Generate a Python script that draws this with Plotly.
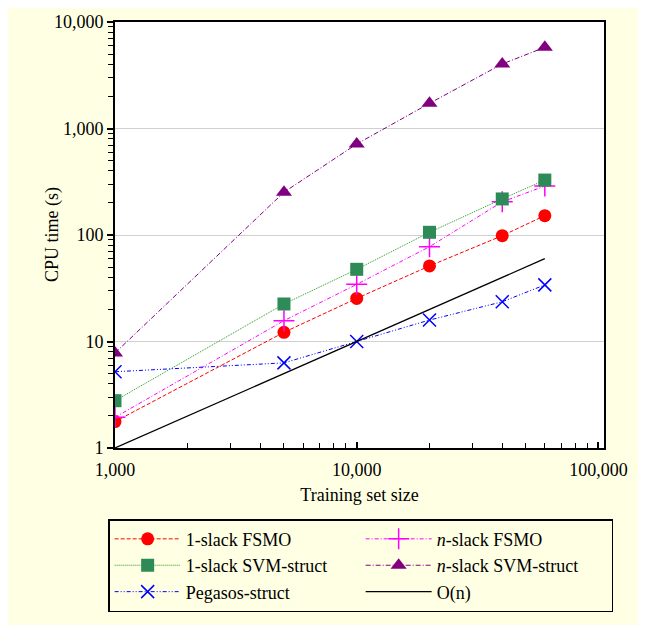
import plotly.graph_objects as go

sizes = [1000, 5000, 10000, 20000, 40000, 60000]
fsmo_1slack = [1.77, 12.2, 25.4, 51.2, 98.5, 152]
fsmo_nslack = [1.94, 15.7, 34.4, 77.6, 205, 288]
svm_1slack = [2.78, 22.5, 47.6, 106, 218, 328]
svm_nslack = [7.8, 252, 715, 1722, 4034, 5786]
pegasos = [5.2, 6.3, 10.0, 15.9, 23.6, 34]
on_x = [1000, 60000]
on_y = [1, 60]

y_tickvals = [1, 10, 100, 1000, 10000]
y_ticktext = ["1", "10", "100", "1,000", "10,000"]
x_tickvals = [1000, 10000, 100000]
x_ticktext = ["1,000", "10,000", "100,000"]

FONT = "Liberation Serif, Times New Roman, serif"
BG = "#FFFFE3"
FS = 18

fig = go.Figure()

def add(name, x, y, color, dash, symbol, msize, mline=None, mcolor=None, lcolor=None):
    marker = dict(symbol=symbol, size=msize, color=mcolor or color)
    if mline:
        marker["line"] = dict(color=color, width=mline)
    fig.add_trace(go.Scatter(
        x=x, y=y, name=name, mode="lines+markers" if symbol else "lines",
        line=dict(color=lcolor or color, width=1, dash=dash),
        marker=marker,
    ))

add("1-slack FSMO", sizes, fsmo_1slack, "#FF0000", "4px,2px", "circle", 13)
add("<i>n</i>-slack FSMO", sizes, fsmo_nslack, "#FF00FF", "4px,2px,1px,2px", "cross-thin", 15, mline=1.5)
add("1-slack SVM-struct", sizes, svm_1slack, "#2E8B57", "1px,1px", "square", 13, lcolor="#1E9A1E")
add("<i>n</i>-slack SVM-struct", sizes, svm_nslack, "#800080", "5px,2px,1px,2px", "triangle-up", 14)
add("Pegasos-struct", sizes, pegasos, "#0000FF", "4px,2px,1px,2px,1px,2px", "x-thin", 13, mline=1.5)
fig.add_trace(go.Scatter(x=on_x, y=on_y, name="O(n)", mode="lines",
                         line=dict(color="black", width=1.2)))

axis_common = dict(
    type="log", showline=True, linecolor="black", linewidth=2, mirror=True,
    tickfont=dict(family=FONT, size=FS, color="black"),
    zeroline=False,
)

fig.update_xaxes(**axis_common, range=[3, 5.023], tickvals=x_tickvals, ticktext=x_ticktext,
                 showgrid=False, ticklabelstandoff=4,
                 ticks="inside", ticklen=6, tickwidth=1.5, tickcolor="black",
                 minor=dict(ticks="inside", ticklen=5, tickwidth=1.2, tickcolor="black", dtick="D1", showgrid=False),
                 title=dict(text="Training set size", font=dict(family=FONT, size=FS, color="black"), standoff=10))
fig.update_yaxes(**axis_common, range=[0, 4], tickvals=y_tickvals, ticktext=y_ticktext,
                 showgrid=True, gridcolor="#D0D0D0", gridwidth=1,
                 ticks="outside", ticklen=6, tickwidth=1.5, tickcolor="black",
                 minor=dict(ticks="outside", ticklen=5, tickwidth=1.2, tickcolor="black", dtick="D1", showgrid=False))

fig.add_annotation(text="CPU time (s)", xref="paper", yref="paper", x=0, y=0.5,
                   xanchor="center", yanchor="middle", xshift=-63, textangle=-90,
                   showarrow=False, font=dict(family=FONT, size=FS, color="black"))

fig.update_layout(
    width=638, height=617,
    margin=dict(l=107, r=42, t=14, b=177, autoexpand=False),
    paper_bgcolor=BG, plot_bgcolor="white",
    font=dict(family=FONT, size=FS, color="black"),
    legend=dict(
        orientation="h", x=-0.014, xanchor="left", y=-0.167, yanchor="top",
        bgcolor=BG, bordercolor="black", borderwidth=1.5,
        entrywidth=170, entrywidthmode="pixels", itemwidth=66,
        font=dict(family=FONT, size=FS, color="black"),
    ),
)

fig.write_html("out.html")
